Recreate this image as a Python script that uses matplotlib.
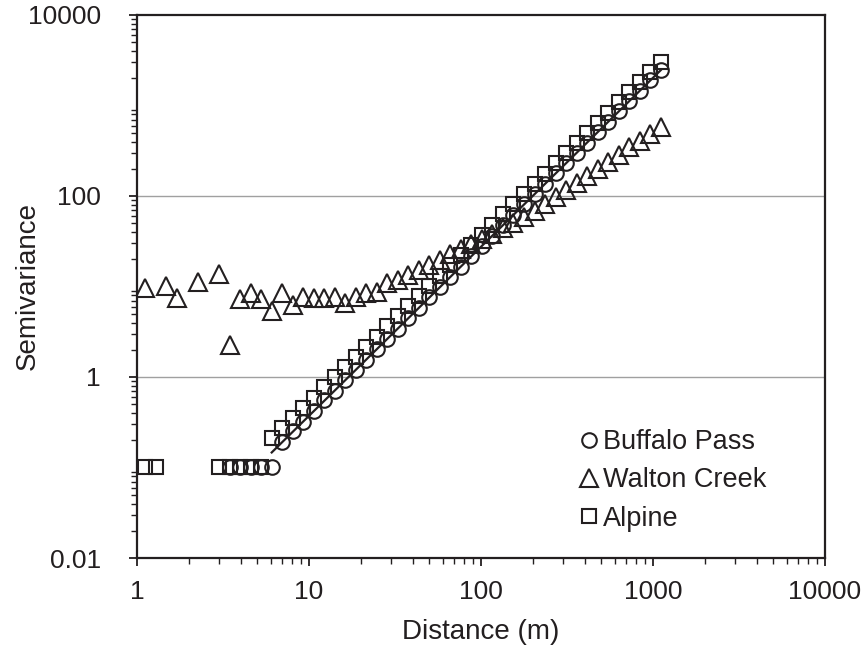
import numpy as np
import matplotlib
matplotlib.use("Agg")
import matplotlib.pyplot as plt
from matplotlib.ticker import LogLocator, FixedLocator, FixedFormatter, NullFormatter

plt.rcParams['font.family'] = ['Liberation Sans', 'DejaVu Sans']

# lag distance classes (m)
lag_m = [1.12, 1.29, 1.48, 1.71, 1.97, 2.26, 2.61, 3.00, 3.45, 3.98,
         4.58, 5.27, 6.07, 6.98, 8.04, 9.25, 10.65, 12.26, 14.11, 16.25,
         18.71, 21.54, 24.79, 28.54, 32.86, 37.82, 43.54, 50.12, 57.70, 66.42,
         76.46, 88.0, 101.3, 116.6, 134.3, 154.5, 177.9, 204.8, 235.8, 271.4,
         312.5, 359.7, 414.1, 476.7, 548.8, 631.7, 727.2, 837.2, 963.7, 1109]

nan = float('nan')
buffalo_pass = [nan, nan, nan, nan, nan, nan, nan, nan, 0.1, 0.1,
                0.1, 0.1, 0.1, 0.19, 0.25, 0.32, 0.42, 0.55, 0.70, 0.93,
                1.2, 1.55, 2.05, 2.6, 3.4, 4.5, 5.8, 7.6, 9.9, 12.8,
                16.5, 21.5, 28, 36.5, 48, 62, 81, 105, 137, 178,
                230, 300, 390, 505, 660, 860, 1110, 1450, 1900, 2450]

walton_creek = [9.6, nan, 10, 7.5, nan, 11.3, nan, 13.7, 2.25, 7.2,
                8.5, 7.2, 5.3, 8.5, 6.2, 7.7, 7.4, 7.4, 7.7, 6.5,
                7.7, 8.4, 8.8, 10.8, 11.8, 13.4, 15.2, 17.3, 19.8, 22.6,
                25.8, 29.5, 33.5, 38.5, 44, 50.5, 58, 68, 81, 97,
                116, 138, 165, 197, 235, 285, 345, 410, 490, 585]

alpine = [0.1, 0.1, nan, nan, nan, nan, nan, 0.1, 0.1, 0.1,
          0.1, 0.1, 0.21, 0.27, 0.35, 0.46, 0.59, 0.77, 0.99, 1.29,
          1.67, 2.16, 2.8, 3.63, 4.7, 6.1, 7.9, 10.2, 13.2, 17.2,
          22.2, 28.8, 37.3, 48.4, 62.7, 81.2, 105, 136, 177, 229,
          296, 384, 498, 645, 836, 1083, 1403, 1817, 2355, 3050]

series_names = ["Buffalo Pass", "Walton Creek", "Alpine"]
x_ticks = [1, 10, 100, 1000, 10000]
x_tick_labels = ["1", "10", "100", "1000", "10000"]
y_ticks = [0.01, 1, 100, 10000]
y_tick_labels = ["0.01", "1", "100", "10000"]

ink = '#231f20'
fs = 20
tfs = 19

fig = plt.figure(figsize=(8.67, 6.51), dpi=100)
ax = fig.add_axes([137/867, 1 - 558/651, (825-137)/867, (558-15)/651])
ax.set_xscale('log')
ax.set_yscale('log')
ax.set_xlim(1, 10000)
ax.set_ylim(0.01, 10000)

x = np.array(lag_m)
bp = np.array(buffalo_pass)
wc = np.array(walton_creek)
al = np.array(alpine)

# power-law fit through Buffalo Pass points above the detection floor
mask = np.isfinite(bp) & (bp > 0.15)
b, a = np.polyfit(np.log10(x[mask]), np.log10(bp[mask]), 1)
xf = np.array([x[12], x[-1]])
ax.plot(xf, 10**(a + b*np.log10(xf)), color=ink, lw=1.6, zorder=3)

mk = dict(linestyle='none', markerfacecolor='none', markeredgecolor=ink,
          markeredgewidth=1.5, zorder=4)
ax.plot(x, bp, marker='o', markersize=10.5, label=series_names[0], **mk)
ax.plot(x, wc, marker='^', markersize=12.5, label=series_names[1], **mk)
ax.plot(x, al, marker='s', markersize=10, label=series_names[2], **mk)

ax.yaxis.set_major_locator(FixedLocator(y_ticks))
ax.yaxis.set_major_formatter(FixedFormatter(y_tick_labels))
ax.yaxis.set_minor_locator(LogLocator(base=10, subs=np.arange(2, 10), numticks=20))
ax.yaxis.set_minor_formatter(NullFormatter())
ax.xaxis.set_major_locator(FixedLocator(x_ticks))
ax.xaxis.set_major_formatter(FixedFormatter(x_tick_labels))
ax.xaxis.set_minor_locator(LogLocator(base=10, subs=np.arange(2, 10), numticks=20))
ax.xaxis.set_minor_formatter(NullFormatter())

for yv in [1, 100]:
    ax.axhline(yv, color='#a0a0a0', lw=1.0, zorder=1)

ax.tick_params(axis='both', which='major', direction='out', length=6, width=1.3,
               color=ink, labelsize=tfs, labelcolor=ink)
ax.tick_params(axis='x', which='major', pad=10)
ax.tick_params(axis='y', which='major', pad=20)
ax.tick_params(axis='both', which='minor', direction='out', length=4, width=1.0,
               color=ink)
ax.tick_params(axis='x', which='both', top=False)
ax.tick_params(axis='y', which='both', right=False)
for s in ax.spines.values():
    s.set_color(ink)
    s.set_linewidth(1.6)

ax.set_xlabel("Distance (m)", fontsize=fs, color=ink)
ax.set_ylabel("Semivariance", fontsize=fs, color=ink)
ax.xaxis.set_label_coords(0.5, -0.112)
ax.yaxis.set_label_coords(-0.14, 0.5)

leg = ax.legend(loc='upper left', bbox_to_anchor=(0.638, 0.237), frameon=False,
                fontsize=19.5, handletextpad=0.0, labelspacing=0.45,
                handlelength=1.0, borderaxespad=0.0, borderpad=0.0)
for t in leg.get_texts():
    t.set_color(ink)

fig.savefig("out.png", dpi=100)
